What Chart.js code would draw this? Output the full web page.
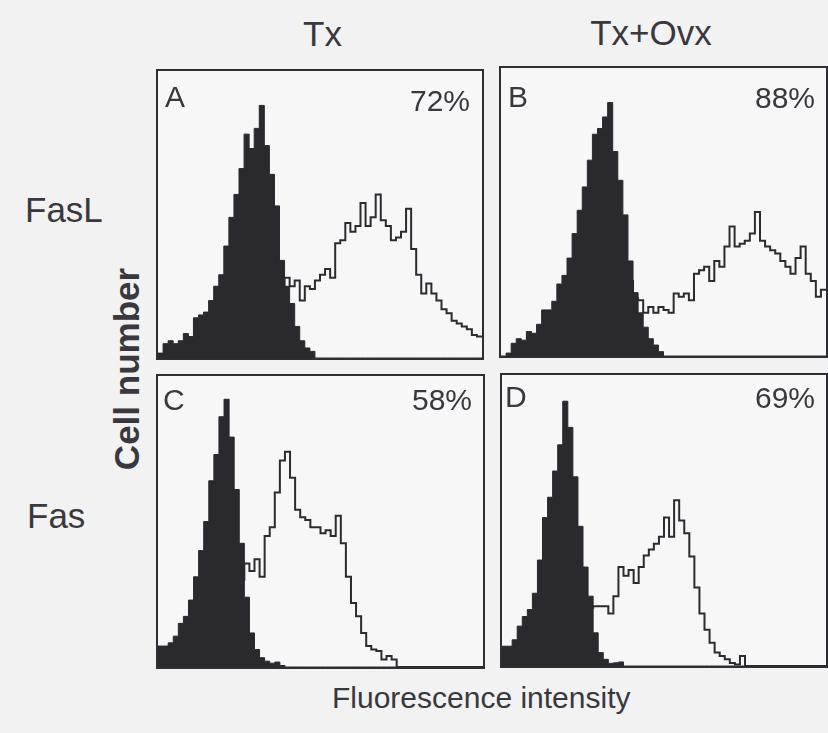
<!DOCTYPE html>
<html>
<head>
<meta charset="utf-8">
<script src="https://cdn.jsdelivr.net/npm/chart.js@4.4.0/dist/chart.umd.min.js"></script>
<style>
body{margin:0;background:#f2f2f2;width:828px;height:733px;position:relative;overflow:hidden;font-family:"Liberation Sans",Arial,sans-serif;color:#3a383e}
.panel{position:absolute;box-sizing:border-box;border:2px solid #2f2e33;background:#f7f7f7}
.panel div{position:relative;width:100%;height:100%}
.t{position:absolute;line-height:1;white-space:nowrap}
</style>
</head>
<body>
<div class="panel" style="left:156px;top:69px;width:328px;height:291px"><div><canvas id="chartA"></canvas></div></div>
<div class="panel" style="left:499px;top:66px;width:329px;height:292px"><div><canvas id="chartB"></canvas></div></div>
<div class="panel" style="left:156px;top:374px;width:329px;height:295px"><div><canvas id="chartC"></canvas></div></div>
<div class="panel" style="left:500px;top:373px;width:328px;height:295px"><div><canvas id="chartD"></canvas></div></div>

<div class="t" style="left:303px;top:16px;font-size:35px">Tx</div>
<div class="t" style="left:651px;top:15px;font-size:35px;transform:translateX(-50%)">Tx+Ovx</div>
<div class="t" style="left:25px;top:192px;font-size:35px">FasL</div>
<div class="t" style="left:27px;top:498px;font-size:35px">Fas</div>
<div class="t" style="left:126px;top:369px;font-size:35px;font-weight:bold;transform:translate(-50%,-50%) rotate(-90deg)">Cell number</div>
<div class="t" style="left:332px;top:683px;font-size:30px">Fluorescence intensity</div>

<div class="t" style="left:165px;top:82px;font-size:30px">A</div>
<div class="t" style="right:358px;top:86px;font-size:30px">72%</div>
<div class="t" style="left:508px;top:82px;font-size:30px">B</div>
<div class="t" style="right:13px;top:83px;font-size:30px">88%</div>
<div class="t" style="left:163px;top:385px;font-size:30px">C</div>
<div class="t" style="right:356px;top:385px;font-size:30px">58%</div>
<div class="t" style="left:505px;top:382px;font-size:30px">D</div>
<div class="t" style="right:13px;top:383px;font-size:30px">69%</div>

<script>
// 64 channels per histogram, heights in % of panel height
var nBins = 64;

var controlA = [1.7,5,6,5,6,8.5,7.5,14,15,16,20,25,29,39,49,57,66,78,73,80,88,74,64,53,34,25,19,11,6,3.5,2.3,0,
  0,0,0,0,0,0,0,0,0,0,0,0,0,0,0,0,0,0,0,0,0,0,0,0,0,0,0,0,0,0,0,0];
var stainA = [null,null,null,null,null,null,null,null,null,null,null,null,null,null,null,null,null,null,null,null,null,null,
  20,22,24,28,25,27,20,25,24,27,29,31,28,40,41,47,44,46,54,46,49,57,48,46,41,42,44,52,38,29,22.5,26,22.5,20,17,15.6,13,12,11,10,8,7.5];

var controlB = [0,1,4.4,6,5.5,8.5,7.9,11,16,16,19,25,28,34,42.5,50.6,58.7,68,77,79,83,88,71,61,49,33,22,15,10,6,3.8,1.5,
  0,0,0,0,0,0,0,0,0,0,0,0,0,0,0,0,0,0,0,0,0,0,0,0,0,0,0,0,0,0,0,0];
var stainB = [null,null,null,null,null,null,null,null,null,null,null,null,null,null,null,null,null,null,null,null,null,null,null,null,null,
  26,20,19.4,15,17,15,17,16,15,21.7,20.6,21.7,19.4,28.6,29.8,31,26,33,31,38,45,38,39,40,42.5,50,40,38,36.7,35.6,33,31,28.6,34,38,28.6,26,20.6,23];

var controlC = [7.2,7.2,8.3,10.6,15,17.4,23,31,40,50,64,73,86,92,79,61,42.5,24,11.7,6,3.2,2,1.3,1.7,0.5,0,0,0,0,0,0,0,
  0,0,0,0,0,0,0,0,0,0,0,0,0,0,0,0,0,0,0,0,0,0,0,0,0,0,0,0,0,0,0,0];
var stainC = [null,null,null,null,null,null,null,null,null,null,null,null,null,null,null,null,
  30,35.6,33,37,31,45,48,60,71,74,65,54,51.5,50.5,48,48,46,47,45,52,42.5,31,22,17.4,11.7,7.2,6,5.5,2.6,3.8,2.6,0,
  0,0,0,0,0,0,0,0,0,0,0,0,0,0,0,0];

var controlD = [6.8,6.8,9,13.7,17,19.4,25,36.4,51,58,67,76,91,82,65,48,34,24,11.4,4.6,2.3,0.9,1.1,1.4,0,0,0,0,0,0,0,0,
  0,0,0,0,0,0,0,0,0,0,0,0,0,0,0,0,0,0,0,0,0,0,0,0,0,0,0,0,0,0,0,0];
var stainD = [null,null,null,null,null,null,null,null,null,null,null,null,null,null,null,null,null,
  20,20.5,20.5,20.5,18,24,34,31,33,28.5,34,38,40,42,44.4,51,44.4,57,50,45.6,37.6,27,18,12.5,8,4.6,3.4,2.3,1,0.5,3.4,
  0,0,0,0,0,0,0,0,0,0,0,0,0,0,0,0];

function toPoints(arr){
    var pts = [];
    arr.forEach(function(v, i){
        if (v !== null) pts.push({x: i, y: v});
    });
    pts.push({x: arr.length, y: arr[arr.length - 1]});
    return pts;
}

function drawPanel(id, control, stain){
    var ctx = document.getElementById(id);
    new Chart(ctx, {
        type: 'line',
        data: {
            datasets: [{
                data: toPoints(control),
                stepped: true,
                fill: 'origin',
                backgroundColor: '#2a292e',
                borderColor: '#2a292e',
                borderWidth: 1,
                pointRadius: 0
            }, {
                data: toPoints(stain),
                stepped: true,
                fill: false,
                borderColor: '#2c2b30',
                borderWidth: 2,
                pointRadius: 0
            }]
        },
        options: {
            responsive: true,
            maintainAspectRatio: false,
            animation: false,
            layout: {padding: 0},
            plugins: {legend: {display: false}, tooltip: {enabled: false}},
            scales: {
                x: {type: 'linear', min: 0, max: nBins, display: false},
                y: {min: 0, max: 100, display: false}
            }
        }
    });
}

drawPanel('chartA', controlA, stainA);
drawPanel('chartB', controlB, stainB);
drawPanel('chartC', controlC, stainC);
drawPanel('chartD', controlD, stainD);
</script>
</body>
</html>
